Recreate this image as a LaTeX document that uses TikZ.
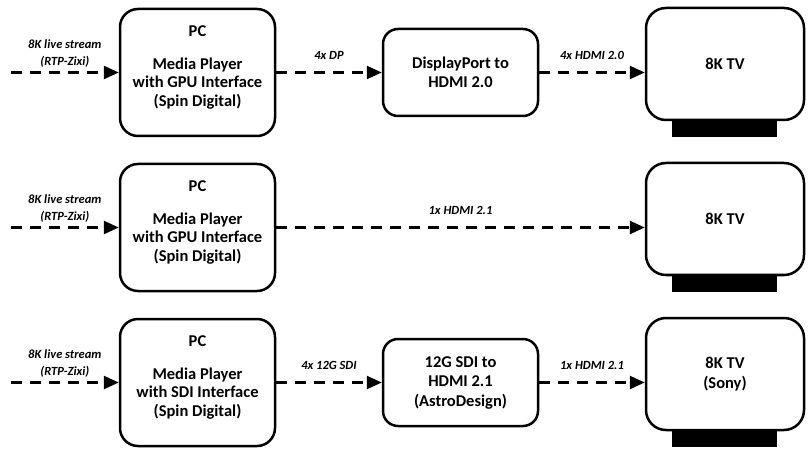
\documentclass[tikz,border=0pt]{standalone}
\usepackage{fontspec}
\setmainfont{Carlito}
\usetikzlibrary{arrows.meta}
\begin{document}
\begin{tikzpicture}[x=1pt,y=-1pt,
  box/.style={draw, line width=2.5pt, rounded corners=18pt, fill=white, inner sep=0pt},
  pcbox/.style={box, minimum width=155pt, minimum height=127pt},
  convbox/.style={box, rounded corners=15pt, minimum width=155pt, minimum height=87pt,
    font=\bfseries\fontsize{16.5}{19.5}\selectfont, align=center},
  tvbox/.style={box, rounded corners=20pt, minimum width=158pt, minimum height=112pt,
    font=\bfseries\fontsize{16.5}{19.5}\selectfont, align=center},
  tvbase/.style={fill=black, minimum width=105pt, minimum height=17pt, inner sep=0pt, outer sep=0pt},
  btxt/.style={font=\bfseries\fontsize{16.5}{18.5}\selectfont, align=center, inner sep=0pt},
  lab/.style={font=\bfseries\itshape\fontsize{12.5}{16.5}\selectfont, align=center, inner sep=0pt},
  link/.style={line width=2.5pt, dash pattern=on 11pt off 8pt, -{Triangle[length=15pt,width=13pt]}}
]
\useasboundingbox (0,0) rectangle (808,454);

% Row 1
\node[pcbox] (pc1) at (197.5,72.5) {};
\node[btxt] (pc1t) at ([yshift=5.5pt]pc1.center) {PC\\[14.5pt]Media Player\\with GPU Interface\\(Spin Digital)};
\node[convbox] (dp1) at (460.5,72.5) {DisplayPort to\\HDMI 2.0};
\node[tvbase] (b1) at (724.5,128.5) {};
\node[tvbox] (tv1) at (725,64) {8K TV};
\coordinate (in1) at (11,72.5);
\draw[link] (in1) -- node[lab, yshift=19pt] (l1a) {8K live stream\\(RTP-Zixi)} (pc1.west);
\draw[link] (pc1.east) -- node[lab, yshift=17pt] (l1b) {4x DP} (dp1.west);
\draw[link] (dp1.east) -- node[lab, yshift=17pt] (l1c) {4x HDMI 2.0} (dp1.east -| tv1.west);

% Row 2
\node[pcbox] (pc2) at (197.5,227.5) {};
\node[btxt] (pc2t) at ([yshift=5.5pt]pc2.center) {PC\\[14.5pt]Media Player\\with GPU Interface\\(Spin Digital)};
\node[tvbase] (b2) at (724.5,283.5) {};
\node[tvbox] (tv2) at (725,219) {8K TV};
\coordinate (in2) at (11,227.5);
\draw[link] (in2) -- node[lab, yshift=19pt] (l2a) {8K live stream\\(RTP-Zixi)} (pc2.west);
\draw[link] (pc2.east) -- node[lab, yshift=17pt] (l2b) {1x HDMI 2.1} (pc2.east -| tv2.west);

% Row 3
\node[pcbox] (pc3) at (197.5,382.5) {};
\node[btxt] (pc3t) at ([yshift=5.5pt]pc3.center) {PC\\[14.5pt]Media Player\\with SDI Interface\\(Spin Digital)};
\node[convbox] (sdi3) at (460.5,382.5) {12G SDI to\\HDMI 2.1\\(AstroDesign)};
\node[tvbase] (b3) at (724.5,438.5) {};
\node[tvbox] (tv3) at (725,374) {8K TV\\(Sony)};
\coordinate (in3) at (11,382.5);
\draw[link] (in3) -- node[lab, yshift=19pt] (l3a) {8K live stream\\(RTP-Zixi)} (pc3.west);
\draw[link] (pc3.east) -- node[lab, yshift=17pt] (l3b) {4x 12G SDI} (sdi3.west);
\draw[link] (sdi3.east) -- node[lab, yshift=17pt] (l3c) {1x HDMI 2.1} (sdi3.east -| tv3.west);
\end{tikzpicture}
\end{document}
